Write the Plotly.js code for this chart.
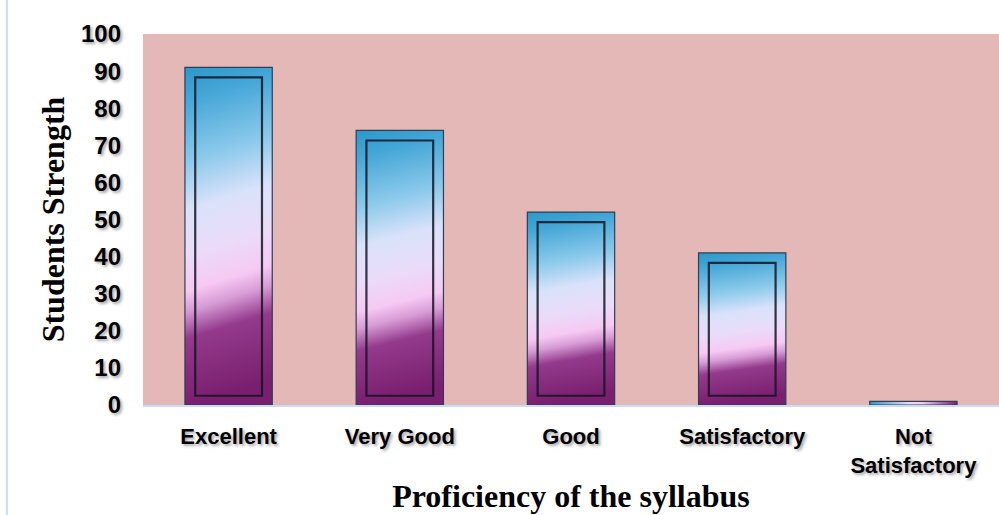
<!DOCTYPE html>
<html>
<head>
<meta charset="utf-8">
<script src="https://cdn.plot.ly/plotly-3.0.1.min.js"></script>
<style>
html,body{margin:0;padding:0;background:#fff;}
#chart{width:999px;height:515px;}
</style>
</head>
<body>
<div id="chart"></div>
<script>
const categories = ["Excellent", "Very Good", "Good", "Satisfactory", "Not<br>Satisfactory"];
const values = [91, 74, 52, 41, 1];
const yTicks = [0, 10, 20, 30, 40, 50, 60, 70, 80, 90, 100];

const innerBase = 2.5;
const innerValues = values.map(v => v > 5 ? v - 2.7 - innerBase : null);

const outer = {
  type: "bar",
  x: categories,
  y: values,
  width: 0.51,
  marker: {color: "#b58fd0", line: {color: "#2e3f55", width: 1.2}},
  hoverinfo: "skip"
};
const inner = {
  type: "bar",
  x: categories,
  y: innerValues,
  base: innerBase,
  width: 0.39,
  marker: {color: "rgba(0,0,0,0)", line: {color: "rgba(20,20,35,0.85)", width: 2.2}},
  hoverinfo: "skip"
};

const shadow = "2px 2px 3px rgba(0,0,0,0.35)";
const layout = {
  width: 999, height: 515,
  margin: {l: 143, r: 0, t: 34, b: 110},
  paper_bgcolor: "#ffffff",
  plot_bgcolor: "#e4b8b6",
  showlegend: false,
  barmode: "overlay",
  xaxis: {
    type: "category",
    showgrid: false,
    showline: true, linecolor: "#c8dcf2", linewidth: 2,
    ticks: "",
    ticklabelstandoff: 11,
    tickfont: {family: "Liberation Sans, Arial, sans-serif", size: 22, color: "#000", weight: 700, shadow: shadow},
    title: {text: "Proficiency of the syllabus", standoff: 8,
      font: {family: "Liberation Serif, Times New Roman, serif", size: 32, color: "#000", weight: 700}}
  },
  yaxis: {
    range: [0, 100],
    tickvals: yTicks,
    ticktext: yTicks.map(String),
    showgrid: false, zeroline: false,
    showline: false,
    ticks: "",
    ticklabelstandoff: 21,
    tickfont: {family: "Liberation Sans, Arial, sans-serif", size: 24, color: "#000", weight: 700, shadow: shadow},
    title: {text: "Students Strength", standoff: 6,
      font: {family: "Liberation Serif, Times New Roman, serif", size: 32, color: "#000", weight: 700}}
  },
  shapes: [
    {type: "line", xref: "paper", yref: "paper", x0: -0.159, x1: -0.159, y0: -0.3, y1: 1.1,
     line: {color: "#c8dcf2", width: 2}}
  ]
};

Plotly.newPlot("chart", [outer, inner], layout, {displayModeBar: false, staticPlot: true}).then(gd => {
  const svg = gd.querySelector(".main-svg");
  const ns = "http://www.w3.org/2000/svg";
  let defs = svg.querySelector("defs");
  if (!defs) { defs = document.createElementNS(ns, "defs"); svg.insertBefore(defs, svg.firstChild); }
  function makeGrad(id, x2, y2, stops) {
    const g = document.createElementNS(ns, "linearGradient");
    g.setAttribute("id", id);
    g.setAttribute("x1", "0"); g.setAttribute("y1", "0");
    g.setAttribute("x2", x2); g.setAttribute("y2", y2);
    stops.forEach(([o, c]) => {
      const s = document.createElementNS(ns, "stop");
      s.setAttribute("offset", o); s.setAttribute("stop-color", c);
      g.appendChild(s);
    });
    defs.appendChild(g);
  }
  makeGrad("barGrad", "0.08", "1", [
    [0, "#2a98cb"], [0.1, "#45a7d7"], [0.28, "#8ccaeb"], [0.42, "#d9e2fa"],
    [0.55, "#eadcf9"], [0.66, "#f6c9f3"], [0.72, "#d79cd5"], [0.8, "#933a8c"], [1, "#7a1f6f"]
  ]);
  makeGrad("barGradH", "1", "0", [
    [0, "#2a98cb"], [0.45, "#e6dcf9"], [0.6, "#f6c9f3"], [1, "#7a1f6f"]
  ]);
  const traces = gd.querySelectorAll(".barlayer .trace");
  if (traces[0]) traces[0].querySelectorAll("path").forEach(p => {
    const bb = p.getBBox();
    p.style.fill = bb.height < 12 ? "url(#barGradH)" : "url(#barGrad)";
  });
});
</script>
</body>
</html>
